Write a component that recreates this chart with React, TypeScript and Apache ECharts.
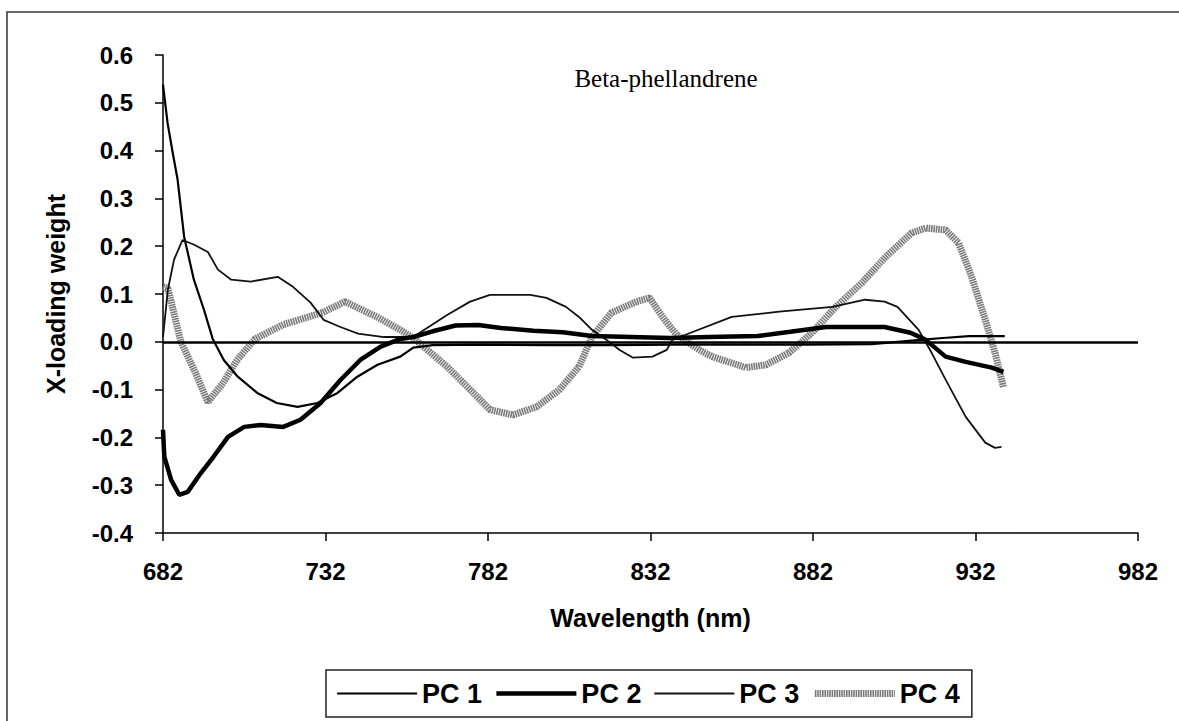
import React, { useEffect, useRef } from "react";
import * as echarts from "echarts";

const chartTitle = "Beta-phellandrene";
const seriesNames = ["PC 1", "PC 2", "PC 3", "PC 4"];

const pc1Nm = [682, 683.4, 685, 686.5, 688.5, 691.5, 694.6, 697.3, 700.7, 705, 711, 717, 723.4, 729.5, 735.7, 741.8, 748, 755, 759, 765, 780, 800, 820, 840, 860, 880, 900, 908, 915, 922, 930, 941];
const pc1Val = [0.538, 0.458, 0.395, 0.339, 0.22, 0.13, 0.067, 0.006, -0.038, -0.073, -0.107, -0.128, -0.136, -0.128, -0.107, -0.073, -0.048, -0.031, -0.012, -0.007, -0.006, -0.007, -0.007, -0.006, -0.006, -0.006, -0.005, 0.0, 0.004, 0.008, 0.012, 0.012];

const pc2Nm = [682, 682.4, 684.5, 687, 689.6, 693.7, 697.6, 702, 707, 712, 719, 724.3, 730.5, 736.6, 742.7, 749, 755, 759, 765, 772, 779, 786, 796, 805, 814, 826, 838, 850, 865, 875, 886, 904, 912, 916.7, 922.8, 929, 937, 940.6];
const pc2Val = [-0.184, -0.24, -0.289, -0.32, -0.314, -0.274, -0.24, -0.199, -0.178, -0.174, -0.178, -0.163, -0.128, -0.08, -0.038, -0.01, 0.006, 0.01, 0.022, 0.034, 0.035, 0.029, 0.023, 0.02, 0.012, 0.01, 0.008, 0.01, 0.012, 0.021, 0.031, 0.031, 0.019, 0.004, -0.031, -0.042, -0.054, -0.063];

const pc3Nm = [682, 683.5, 685.4, 688, 691.6, 695.8, 698.9, 703, 709, 717.3, 722, 727.4, 731.4, 736.6, 742, 750, 759, 769.4, 776.5, 782.6, 795, 800, 806, 810, 814, 818.5, 822.5, 826.5, 832.6, 837, 838.7, 841, 857, 871.6, 888, 898, 904, 908, 914.5, 918.5, 922.8, 929, 935, 938, 940];
const pc3Val = [0.01, 0.109, 0.172, 0.213, 0.203, 0.188, 0.151, 0.13, 0.126, 0.136, 0.115, 0.082, 0.046, 0.031, 0.017, 0.01, 0.01, 0.056, 0.084, 0.098, 0.098, 0.092, 0.073, 0.052, 0.025, 0.004, -0.017, -0.033, -0.031, -0.017, 0.004, 0.01, 0.052, 0.063, 0.073, 0.088, 0.084, 0.073, 0.025, -0.023, -0.079, -0.157, -0.211, -0.222, -0.22];

const pc4Nm = [682, 683.5, 685, 687.5, 692, 695.8, 700.5, 704.8, 710.3, 719, 731, 738, 747.8, 755, 759, 769.4, 776.5, 782.6, 789.7, 797, 804, 810, 814, 820, 827.7, 831.7, 835.7, 840, 847, 851, 861.4, 867.6, 874.6, 881.7, 889, 897, 904.4, 912.4, 916.7, 922.8, 926.8, 930.8, 935, 938, 940.6];
const pc4Val = [0.115, 0.112, 0.07, 0.0, -0.065, -0.126, -0.086, -0.038, 0.006, 0.036, 0.061, 0.084, 0.052, 0.025, 0.008, -0.052, -0.1, -0.142, -0.153, -0.136, -0.1, -0.052, 0.01, 0.061, 0.084, 0.092, 0.052, 0.015, -0.017, -0.031, -0.054, -0.048, -0.023, 0.019, 0.073, 0.123, 0.178, 0.228, 0.238, 0.234, 0.207, 0.136, 0.046, -0.023, -0.095];

const xMin = 682;
const xMax = 982;
const xStep = 50;
const yMin = -0.4;
const yMax = 0.6;
const yStep = 0.1;

const pairs = (xs: number[], ys: number[]) => xs.map((x, i) => [x, ys[i]]);

const sans = "'Liberation Sans', Arial, sans-serif";

const lineStyles = [
  { color: "#000", width: 2.2, type: "solid" as any },
  { color: "#000", width: 4.5, type: "solid" as any },
  { color: "#111", width: 1.8, type: "solid" as any },
  { color: "#7a7a7a", width: 7, type: [1.6, 0.8] as any },
];

export default function App() {
  const ref = useRef<HTMLDivElement>(null);
  useEffect(() => {
    if (!ref.current) return;
    const chart = echarts.init(ref.current, undefined, { renderer: "svg" });
    chart.setOption({
      animation: false,
      backgroundColor: "#ffffff",
      graphic: [
        {
          type: "rect",
          shape: { x: 7, y: 12, width: 1200, height: 800 },
          style: { fill: "none", stroke: "#333", lineWidth: 1.5 },
          silent: true,
        },
      ],
      title: {
        text: chartTitle,
        left: 661,
        top: 61,
        textAlign: "center",
        textStyle: { fontFamily: "'Liberation Serif', 'Times New Roman', serif", fontSize: 25, fontWeight: "normal", color: "#000" },
      },
      legend: {
        data: seriesNames.map((n, i) => ({ name: n, lineStyle: { ...lineStyles[i] } })),
        left: 326,
        top: 670,
        orient: "horizontal",
        padding: [10, 12, 10, 10],
        itemGap: 12,
        itemWidth: 80,
        itemHeight: 14,
        borderColor: "#222",
        borderWidth: 1.5,
        itemStyle: { opacity: 0 },
        textStyle: { fontFamily: sans, fontSize: 27, fontWeight: "bold", color: "#000" },
      },
      grid: { left: 163, right: 41, top: 55, bottom: 188, containLabel: false },
      xAxis: {
        type: "value",
        min: xMin,
        max: xMax,
        interval: xStep,
        name: "Wavelength (nm)",
        nameLocation: "middle",
        nameGap: 72,
        nameTextStyle: { fontFamily: sans, fontSize: 25, fontWeight: "bold", color: "#000" },
        axisLine: { show: true, onZero: false, lineStyle: { color: "#000", width: 1.5 } },
        axisTick: { show: true, inside: false, length: 8, lineStyle: { color: "#000", width: 1.5 } },
        axisLabel: { margin: 26, fontFamily: sans, fontSize: 24, fontWeight: "bold", color: "#000" },
        splitLine: { show: false },
      },
      yAxis: {
        type: "value",
        min: yMin,
        max: yMax,
        interval: yStep,
        name: "X-loading weight",
        nameLocation: "middle",
        nameGap: 95,
        nameRotate: 90,
        nameTextStyle: { fontFamily: sans, fontSize: 25, fontWeight: "bold", color: "#000" },
        axisLine: { show: true, onZero: false, lineStyle: { color: "#000", width: 1.5 } },
        axisTick: { show: true, inside: false, length: 8, lineStyle: { color: "#000", width: 1.5 } },
        axisLabel: {
          margin: 30,
          fontFamily: sans,
          fontSize: 24,
          fontWeight: "bold",
          color: "#000",
          formatter: (v: number) => v.toFixed(1),
        },
        splitLine: { show: false },
      },
      series: [
        {
          name: seriesNames[0],
          type: "line",
          data: pairs(pc1Nm, pc1Val),
          symbol: "none",
          lineStyle: lineStyles[0],
          itemStyle: { color: "#000" },
          z: 3,
          markLine: {
            silent: true,
            symbol: ["none", "none"],
            label: { show: false },
            lineStyle: { color: "#000", width: 2.5, type: "solid" },
            data: [{ yAxis: 0 }],
          },
        },
        {
          name: seriesNames[1],
          type: "line",
          data: pairs(pc2Nm, pc2Val),
          symbol: "none",
          lineStyle: lineStyles[1],
          itemStyle: { color: "#000" },
          z: 4,
        },
        {
          name: seriesNames[2],
          type: "line",
          data: pairs(pc3Nm, pc3Val),
          symbol: "none",
          lineStyle: lineStyles[2],
          itemStyle: { color: "#111" },
          z: 3,
        },
        {
          name: seriesNames[3],
          type: "line",
          data: pairs(pc4Nm, pc4Val),
          symbol: "none",
          lineStyle: lineStyles[3],
          itemStyle: { color: "#7a7a7a" },
          z: 2,
        },
      ],
    });
    return () => chart.dispose();
  }, []);
  return (
    <div
      ref={ref}
      style={{ position: "fixed", left: 0, top: 0, width: 1179, height: 721, background: "#fff" }}
    />
  );
}
